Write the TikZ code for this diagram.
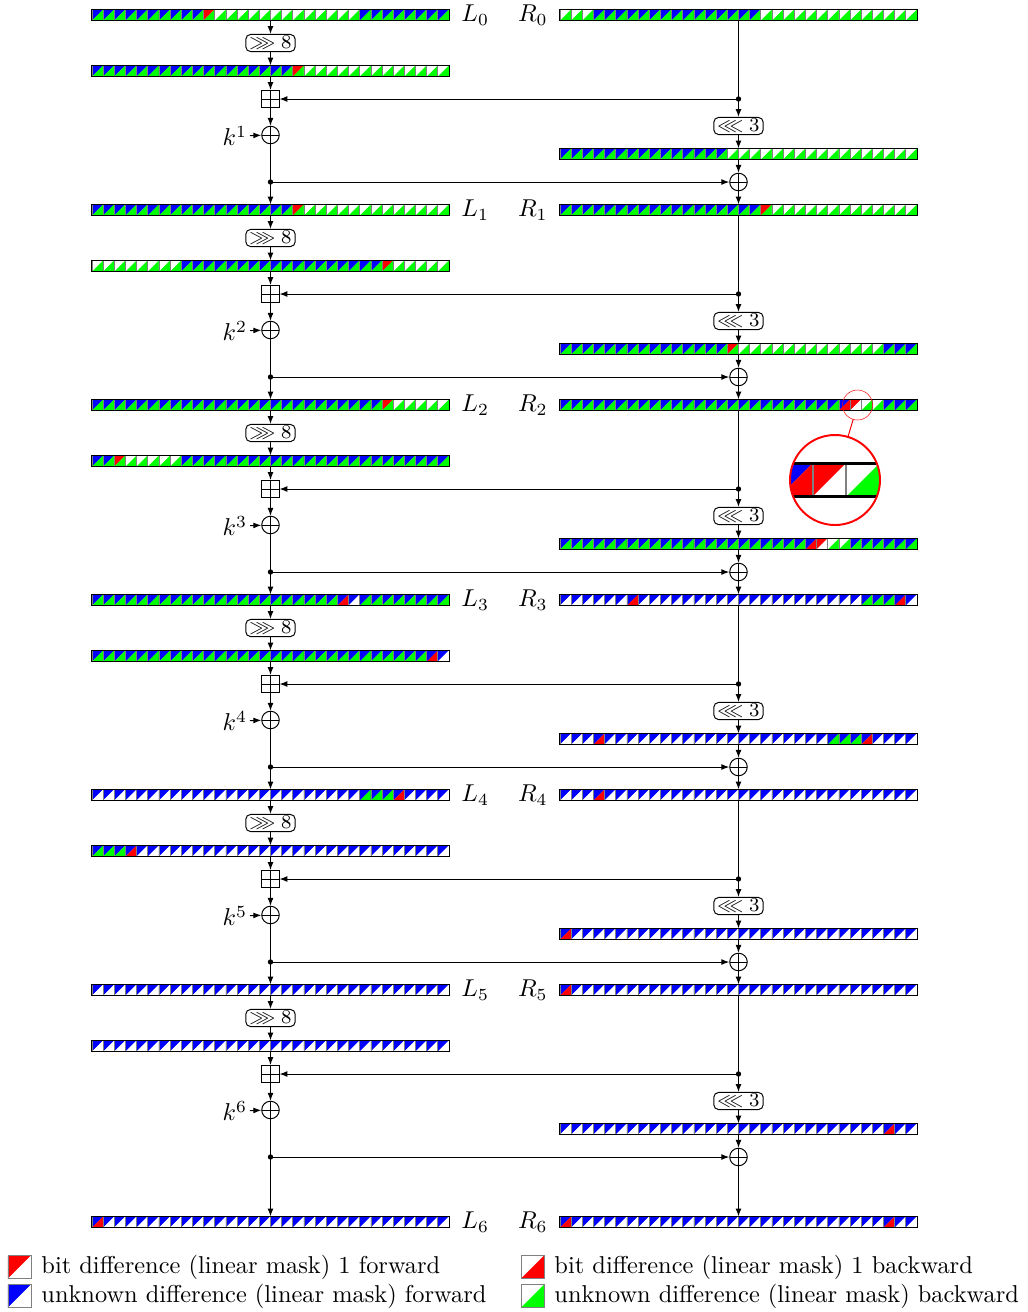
\documentclass[tikz,border=0pt]{standalone}
\usepackage{amsmath,amssymb}
\usepackage{tikz}
\usetikzlibrary{arrows.meta,positioning,spy}

% cell colours: fw = upper left (forward), bw = lower right (backward)
\def\fwx{blue}  \def\bwx{green}
\def\fwb{blue}  \def\bwb{white}
\def\fwg{white} \def\bwg{green}
\def\fwp{red}   \def\bwp{green}
\def\fwq{blue}  \def\bwq{red}
\def\fwr{red}   \def\bwr{white}
\def\cw{11.156} % width of one bit cell

\tikzset{
    rowbox/.style={rectangle, inner sep=0, outer sep=0, minimum width=146.4pt, minimum height=4.57pt},
    cellline/.style={draw=gray, line width=0.3pt},
    rowline/.style={draw=black, line width=0.4pt},
    rotbox/.style={draw, rounded corners=2pt, inner xsep=1.5pt, inner ysep=0.8pt, minimum height=7pt, font=\footnotesize},
    plusmark/.style={path picture={\draw (path picture bounding box.north) -- (path picture bounding box.south)
        (path picture bounding box.west) -- (path picture bounding box.east);}},
    xorop/.style={circle, draw, inner sep=0, minimum size=7.2pt, plusmark},
    addop/.style={rectangle, draw, inner sep=0, minimum size=7pt, plusmark},
    >={Latex[length=3.2pt,width=2.4pt]}
}

% one 32-bit word: name, left x, centre y, run lengths code/count
\newcounter{cellidx}
\newcommand{\bitrow}[4]{%
    \node[rowbox] (#1) at ({#2+178.5},#3) {};
    \setcounter{cellidx}{0}%
    \foreach \cc/\nn in {#4} {
        \foreach \rep in {1,...,\nn} {
            \pgfmathsetmacro{\cxl}{#2+\thecellidx*\cw}
            \pgfmathsetmacro{\cyt}{#3-\cw/2}
            \edef\fwcol{\csname fw\cc\endcsname}
            \edef\bwcol{\csname bw\cc\endcsname}
            \fill[fill=\fwcol] (\cxl,\cyt) -- ++(\cw,0) -- ++(-\cw,\cw) -- cycle;
            \fill[fill=\bwcol] (\cxl+\cw,\cyt) -- ++(0,\cw) -- ++(-\cw,0) -- cycle;
            \draw[cellline] (\cxl,\cyt) rectangle ++(\cw,\cw);
            \stepcounter{cellidx}
        }
    }
    \draw[rowline] (#1.north west) rectangle (#1.south east);
}

\begin{document}
\begin{tikzpicture}[x=0.41pt, y=-0.41pt,
    spy using outlines={circle, red, magnification=3, size=36.9pt, connect spies}]
    \useasboundingbox (0,0) rectangle (1028,1312);

    % Words L_i, R_i and the rotated words
    \bitrow{L0}{92}{15}{x/10,p/1,g/13,x/8}
    \bitrow{R0}{560}{15}{g/3,x/15,g/14}
    \bitrow{Ls0}{92}{71}{x/18,p/1,g/13}
    \bitrow{Rs0}{560}{154}{x/15,g/17}

    \bitrow{L1}{92}{210}{x/18,p/1,g/13}
    \bitrow{R1}{560}{210}{x/18,p/1,g/13}
    \bitrow{Ls1}{92}{266}{g/8,x/18,p/1,g/5}
    \bitrow{Rs1}{560}{349}{x/15,p/1,g/13,x/3}

    \bitrow{L2}{92}{405}{x/26,p/1,g/5}
    \bitrow{R2}{560}{405}{x/25,q/1,r/1,g/2,x/3}
    \bitrow{Ls2}{92}{461}{x/2,p/1,g/5,x/24}
    \bitrow{Rs2}{560}{544}{x/22,q/1,r/1,g/2,x/6}

    \bitrow{L3}{92}{600}{x/22,q/1,b/1,x/8}
    \bitrow{R3}{560}{600}{b/6,q/1,b/20,x/3,q/1,b/1}
    \bitrow{Ls3}{92}{656}{x/30,q/1,b/1}
    \bitrow{Rs3}{560}{739}{b/3,q/1,b/20,x/3,q/1,b/4}

    \bitrow{L4}{92}{795}{b/24,x/3,q/1,b/4}
    \bitrow{R4}{560}{795}{b/3,q/1,b/28}
    \bitrow{Ls4}{92}{851}{x/3,q/1,b/28}
    \bitrow{Rs4}{560}{934}{q/1,b/31}

    \bitrow{L5}{92}{990}{b/32}
    \bitrow{R5}{560}{990}{q/1,b/31}
    \bitrow{Ls5}{92}{1046}{b/32}
    \bitrow{Rs5}{560}{1129}{b/29,q/1,b/2}

    \bitrow{L6}{92}{1222}{q/1,b/31}
    \bitrow{R6}{560}{1222}{q/1,b/28,q/1,b/2}

    % Word labels
    \foreach \i in {0,...,6} {
        \node[right=4.9pt of L\i, inner sep=0] (lbL\i) {$L_{\i}$};
        \node[left=4.9pt of R\i, inner sep=0] (lbR\i) {$R_{\i}$};
    }

    % One round: rotations, addition, key and xors
    \foreach \i [evaluate=\i as \yr using {15+195*\i}, evaluate=\i as \j using {int(\i+1)}] in {0,...,5} {
        \node[rotbox] (rr\i) at (270.5,\yr+28) {$\ggg 8$};
        \node[addop] (add\i) at (270.5,\yr+84) {};
        \node[xorop] (xk\i) at (270.5,\yr+120) {};
        \node[anchor=east, inner sep=1pt] (k\i) at (250,\yr+121) {$k^{\j}$};
        \coordinate (dr\i) at (738.5,\yr+84);
        \node[rotbox] (rl\i) at (738.5,\yr+111) {$\lll 3$};
        \node[xorop] (xr\i) at (738.5,\yr+167) {};
        \coordinate (dl\i) at (270.5,\yr+167);

        % left branch
        \draw[->] (L\i) -- (rr\i);
        \draw[->] (rr\i) -- (Ls\i);
        \draw[->] (Ls\i) -- (add\i);
        \draw[->] (add\i) -- (xk\i);
        \draw[->] (k\i) -- (xk\i);
        \draw (xk\i) -- (dl\i);
        \draw[->] (dl\i) -- (L\j);
        \draw[->] (dl\i) -- (xr\i);
        \fill (dl\i) circle (1.1pt);

        % right branch
        \draw (R\i) -- (dr\i);
        \draw[->] (dr\i) -- (add\i);
        \draw[->] (dr\i) -- (rl\i);
        \draw[->] (rl\i) -- (Rs\i);
        \draw[->] (Rs\i) -- (xr\i);
        \draw[->] (xr\i) -- (R\j);
        \fill (dr\i) circle (1.1pt);
    }

    % Legend
    \foreach \lx/\ly/\fc/\bc/\txt [count=\n] in {
            8/1267/red/white/{bit difference (linear mask) 1 forward},
            8/1296/blue/white/{unknown difference (linear mask) forward},
            521/1267/white/red/{bit difference (linear mask) 1 backward},
            521/1296/white/green/{unknown difference (linear mask) backward}} {
        \fill[\fc] (\lx,\ly-11.5) -- ++(23,0) -- ++(-23,23) -- cycle;
        \fill[\bc] (\lx+23,\ly-11.5) -- ++(0,23) -- ++(-23,0) -- cycle;
        \draw[cellline] (\lx,\ly-11.5) rectangle ++(23,23);
        \node[anchor=west, inner sep=0] (lg\n) at (\lx+33,\ly) {\txt};
    }

    % Magnified bits of R_2
    \spy on (857.5,405) in node at (835,480);
\end{tikzpicture}
\end{document}
